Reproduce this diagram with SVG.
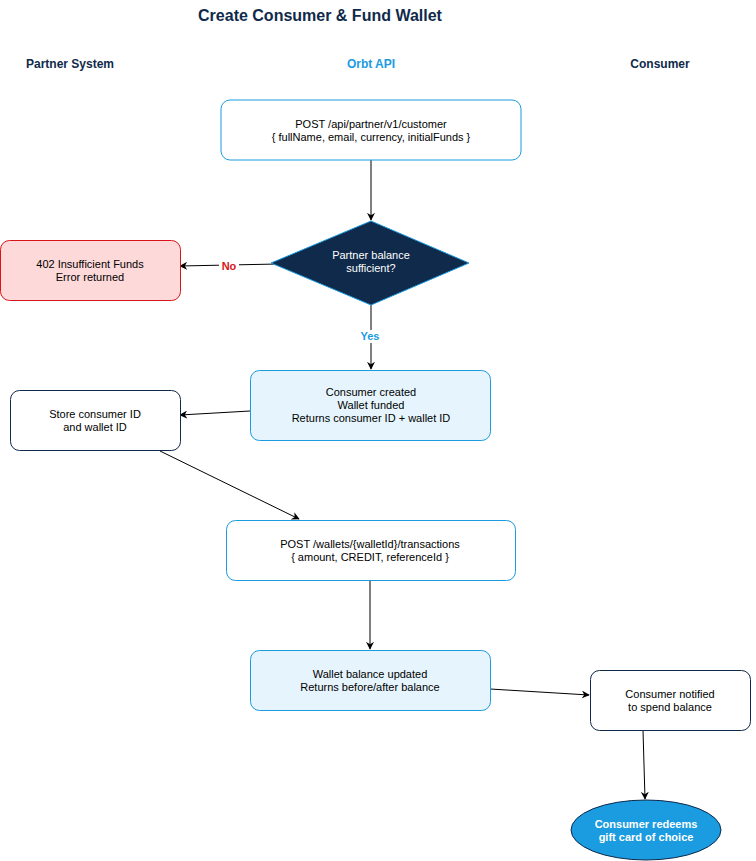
<svg xmlns="http://www.w3.org/2000/svg" width="756" height="861" viewBox="0 0 756 861">
<style>
text{font-family:"Liberation Sans",Arial,sans-serif;text-anchor:middle}
.t{font-size:11px;fill:#000}
.w{font-size:11px;fill:#fff}
.wb{font-size:11px;fill:#fff;font-weight:bold}
.h{font-size:12px;font-weight:bold;fill:#0f2a4a}
.c{stroke:#000;stroke-width:1;fill:none;marker-end:url(#a)}
.blue{fill:#fff;stroke:#1b9be0;stroke-width:1}
.lblue{fill:#e6f5fd;stroke:#1b9be0;stroke-width:1}
.navy{fill:#fff;stroke:#0f2a4a;stroke-width:1}
</style>
<defs>
<marker id="a" viewBox="0 0 10 10" refX="9" refY="5" markerWidth="8" markerHeight="8" orient="auto" markerUnits="userSpaceOnUse">
<path d="M0,0 L10,5 L0,10 L3,5 Z" fill="#000"/>
</marker>
</defs>
<rect width="756" height="861" fill="#fff"/>
<text x="320" y="21" style="font-size:16px;font-weight:bold;fill:#0f2a4a">Create Consumer &amp; Fund Wallet</text>
<text class="h" x="70" y="68">Partner System</text>
<text class="h" x="371" y="68" style="fill:#1b9be0">Orbt API</text>
<text class="h" x="660" y="68">Consumer</text>

<g id="connectors">
<path class="c" d="M371,160 L371,220"/>
<path class="c" d="M278,264 L180,266"/>
<path class="c" d="M371,300 L371,369"/>
<path class="c" d="M250,411 L180,415"/>
<path class="c" d="M160,451 L299,519"/>
<path class="c" d="M370,580 L370,649"/>
<path class="c" d="M490,689 L589,695"/>
<path class="c" d="M643,730 L645,799"/>
<rect x="219" y="259" width="20" height="13" fill="#fff"/>
<text x="229" y="270" style="font-size:11px;font-weight:bold;fill:#d9151b">No</text>
<rect x="358" y="330" width="24" height="13" fill="#fff"/>
<text x="370" y="340" style="font-size:11px;font-weight:bold;fill:#1b9be0">Yes</text>
</g>

<g id="post-customer">
<rect class="blue" x="221" y="100" width="300" height="60" rx="9"/>
<text class="t" x="371" y="128">POST /api/partner/v1/customer</text>
<text class="t" x="371" y="141">{ fullName, email, currency, initialFunds }</text>
</g>

<g id="decision">
<polygon points="371,221 469,263 371,305 271,263" fill="#0f2a4a" stroke="#1b9be0" stroke-width="1"/>
<text class="w" x="371" y="259">Partner balance</text>
<text class="w" x="371" y="272">sufficient?</text>
</g>

<g id="error">
<rect x="0.5" y="240.5" width="180" height="60" rx="9" fill="#fdd9d9" stroke="#d9151b" stroke-width="1"/>
<text class="t" x="90" y="268">402 Insufficient Funds</text>
<text class="t" x="90" y="281">Error returned</text>
</g>

<g id="consumer-created">
<rect class="lblue" x="250.5" y="370.5" width="240" height="70" rx="9"/>
<text class="t" x="371" y="396">Consumer created</text>
<text class="t" x="371" y="409">Wallet funded</text>
<text class="t" x="371" y="422">Returns consumer ID + wallet ID</text>
</g>

<g id="store-ids">
<rect class="navy" x="10.5" y="390.5" width="170" height="60" rx="9"/>
<text class="t" x="95" y="418">Store consumer ID</text>
<text class="t" x="95" y="431">and wallet ID</text>
</g>

<g id="post-transactions">
<rect class="blue" x="226.5" y="520.5" width="289" height="60" rx="9"/>
<text class="t" x="370" y="548">POST /wallets/{walletId}/transactions</text>
<text class="t" x="370" y="561">{ amount, CREDIT, referenceId }</text>
</g>

<g id="balance-updated">
<rect class="lblue" x="250.5" y="650.5" width="240" height="60" rx="9"/>
<text class="t" x="370" y="678">Wallet balance updated</text>
<text class="t" x="370" y="691">Returns before/after balance</text>
</g>

<g id="consumer-notified">
<rect class="navy" x="590.5" y="670.5" width="160" height="60" rx="9"/>
<text class="t" x="670" y="698">Consumer notified</text>
<text class="t" x="670" y="711">to spend balance</text>
</g>

<g id="redeem">
<ellipse cx="646" cy="830" rx="75" ry="30" fill="#1b9be0" stroke="#0f2a4a" stroke-width="1"/>
<text class="wb" x="646" y="828">Consumer redeems</text>
<text class="wb" x="646" y="841">gift card of choice</text>
</g>
</svg>
